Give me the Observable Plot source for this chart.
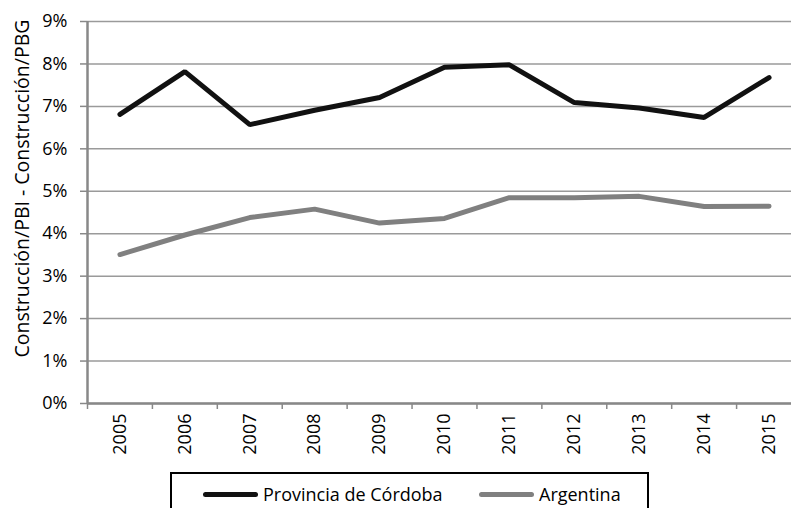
<!DOCTYPE html>
<html><head><meta charset="utf-8">
<script src="https://cdn.jsdelivr.net/npm/d3@7"></script>
<script src="https://cdn.jsdelivr.net/npm/@observablehq/plot@0.6"></script>
<style>
html,body{margin:0;padding:0;background:#fff;overflow:hidden;}
body{font-family:"Open Sans",sans-serif;}
#legend{position:absolute;left:170px;top:472px;width:475px;height:50px;border:2px solid #000;font-size:18px;color:#000;}
.item{position:absolute;top:8px;display:flex;align-items:center;}
.sw{display:inline-block;width:55px;height:5px;border-radius:3px;margin-right:5px;}
</style>
</head><body>
<div id="chart"></div>
<div id="legend"></div>
<script>
const years = [2005,2006,2007,2008,2009,2010,2011,2012,2013,2014,2015];
const cordoba = [6.81,7.82,6.57,6.91,7.21,7.92,7.98,7.09,6.96,6.74,7.68];
const argentina = [3.51,3.97,4.38,4.58,4.25,4.36,4.85,4.85,4.88,4.64,4.65];
const seriesNames = ["Provincia de Córdoba","Argentina"];
const seriesColors = ["#111111","#808080"];
const yTicks = [0,1,2,3,4,5,6,7,8,9];
const yLabel = "Construcción/PBI - Construcción/PBG";

const data = [];
years.forEach((y,i)=>{
  data.push({year:y, value:cordoba[i]/100, series:seriesNames[0]});
  data.push({year:y, value:argentina[i]/100, series:seriesNames[1]});
});
const boundaries = years.map(y=>y-0.5).concat([years[years.length-1]+0.5]);

const chart = Plot.plot({
  width:791, height:470,
  marginLeft:87, marginRight:0, marginTop:21, marginBottom:67,
  style:{fontFamily:"'Open Sans', sans-serif", fontSize:"18px", color:"#000", background:"#fff"},
  x:{type:"linear", domain:[years[0]-0.5, years[years.length-1]+0.5], range:[87,801]},
  y:{domain:[0,0.09]},
  color:{domain:seriesNames, range:seriesColors},
  marks:[
    Plot.gridY(yTicks.map(d=>d/100), {stroke:"#9a9a9a", strokeOpacity:1, strokeWidth:1.5}),
    Plot.axisY(yTicks.map(d=>d/100), {tickFormat:d3.format(".0%"), tickSize:7, tickPadding:13, stroke:"#888", strokeWidth:1.5, fontSize:18, label:null}),
    Plot.axisX(boundaries, {tickSize:6, tickFormat:()=> "", stroke:"#888", strokeWidth:1.5, label:null}),
    Plot.axisX(years, {tickSize:0, tickPadding:10, tickRotate:-90, tickFormat:d=>String(d), fontSize:18, label:null}),
    Plot.ruleX([boundaries[0]], {stroke:"#888", strokeWidth:2.5}),
    Plot.ruleY([0], {stroke:"#888", strokeWidth:2.5}),
    Plot.line(data, {x:"year", y:"value", z:"series", stroke:"series", strokeWidth:5, strokeLinejoin:"miter", strokeLinecap:"round"}),
    Plot.text([yLabel], {frameAnchor:"left", dx:-65, dy:-24, rotate:-90, textAnchor:"middle", text:d=>d, fontSize:19.5, fill:"#000"})
  ]
});
document.getElementById("chart").appendChild(chart);

const leg = document.getElementById("legend");
const lefts = [31, 307];
seriesNames.forEach((n,i)=>{
  const it = document.createElement("div");
  it.className="item"; it.style.left = lefts[i]+"px";
  const sw = document.createElement("span"); sw.className="sw"; sw.style.background=seriesColors[i];
  const tx = document.createElement("span"); tx.textContent = n;
  it.appendChild(sw); it.appendChild(tx); leg.appendChild(it);
});
</script>
</body></html>
